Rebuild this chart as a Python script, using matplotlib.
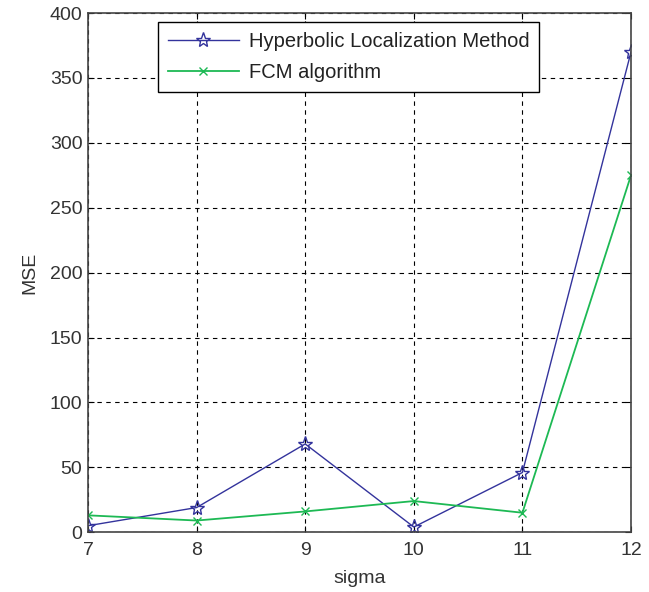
import matplotlib
matplotlib.use('Agg')
import matplotlib.pyplot as plt

plt.rcParams['font.family'] = ['Liberation Sans', 'DejaVu Sans']

# data
sigma = [7, 8, 9, 10, 11, 12]
mse_hyperbolic = [5, 19, 68, 4, 46, 370]
mse_fcm = [13, 9, 16, 24, 15, 275]

fig = plt.figure(figsize=(6.49, 5.92), dpi=100)
ax = fig.add_axes([0.1356, 0.101, 0.8367, 0.877])

ax.plot(sigma, mse_hyperbolic, color='#33339c', linewidth=1, marker='*',
        markersize=11, markerfacecolor='none', markeredgecolor='#33339c',
        label='Hyperbolic Localization Method')
ax.plot(sigma, mse_fcm, color='#1db954', linewidth=1.3, marker='x',
        markersize=6, label='FCM algorithm')

ax.set_xlim(7, 12)
ax.set_ylim(0, 400)
ax.set_xticks(sigma)
ax.set_yticks(range(0, 401, 50))
ax.grid(True, color='black', linestyle=(0, (4, 4)), linewidth=0.8)
ax.tick_params(direction='in', labelsize=14, length=4, top=True, right=True,
               pad=4, labelcolor='#333333')
ax.tick_params(axis='x', pad=7)
for s in ax.spines.values():
    s.set_linewidth(1.2)
    s.set_color('#444444')

ax.set_xlabel('sigma', fontsize=14, labelpad=8, color='#333333')
ax.set_ylabel('MSE', fontsize=14, labelpad=8, color='#333333')

leg = ax.legend(loc='upper left', bbox_to_anchor=(0.129, 0.983), borderaxespad=0,
                fontsize=14.5, fancybox=False, edgecolor='black', framealpha=1,
                handlelength=3.5, labelspacing=0.6, handletextpad=0.5,
                borderpad=0.5)
for t in leg.get_texts():
    t.set_color('#222222')

fig.savefig('out.png', dpi=100)
